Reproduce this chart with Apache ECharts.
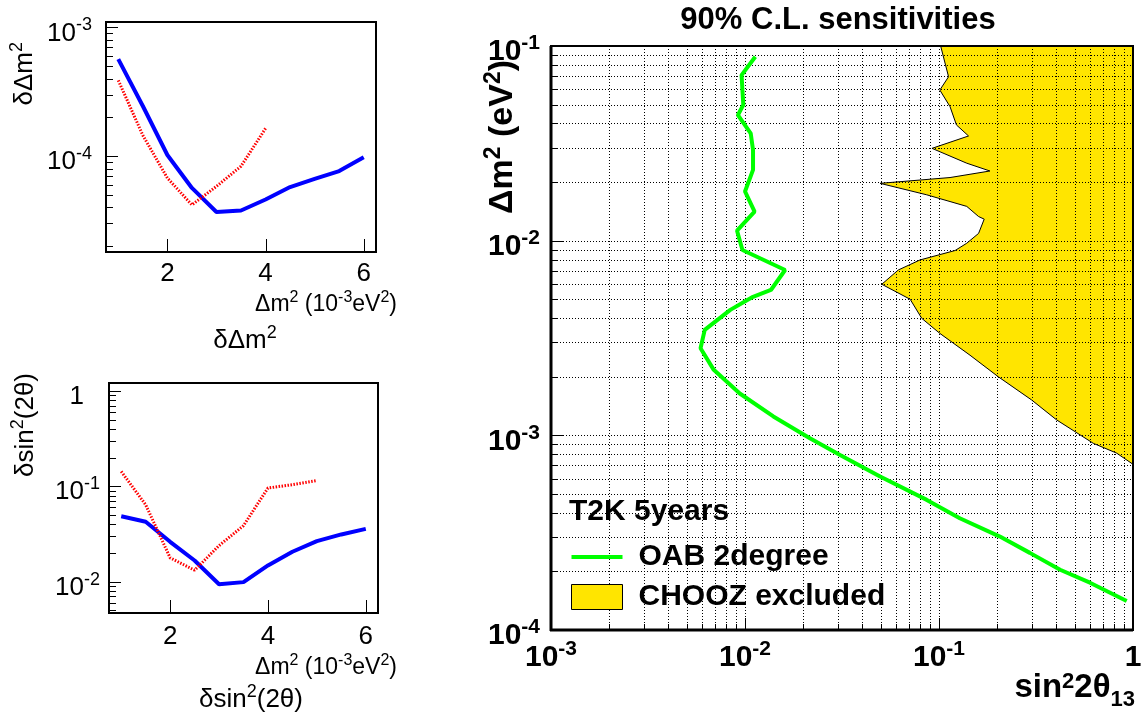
<!DOCTYPE html>
<html>
<head>
<meta charset="utf-8">
<script src="https://cdn.jsdelivr.net/npm/echarts@6/dist/echarts.min.js"></script>
<style>
  html, body { margin: 0; padding: 0; background: #fff; }
  #chart { width: 1144px; height: 714px; }
</style>
</head>
<body>
<div id="chart"></div>
<script>
const FONT = '"Liberation Sans", Arial, Helvetica, sans-serif';

// ---- Main panel: 90% C.L. sensitivity, T2K 5 years, OAB 2 degree ----
const oabSin2 = [0.0113, 0.0096, 0.0098, 0.0092, 0.0107, 0.0110, 0.0110, 0.0100, 0.0112, 0.0091,
                 0.0097, 0.0161, 0.0136, 0.0110, 0.0084, 0.0062, 0.0059, 0.0069, 0.0094, 0.0140,
                 0.0216, 0.0309, 0.0497, 0.0865, 0.128, 0.206, 0.294, 0.421, 0.600, 0.928];
const oabDm2 = [0.0881, 0.0709, 0.0498, 0.0442, 0.0356, 0.0292, 0.0231, 0.0179, 0.0141, 0.01125,
                0.00895, 0.00707, 0.00558, 0.00515, 0.00441, 0.00348, 0.00280, 0.00217, 0.00164, 0.00125,
                0.000966, 0.000793, 0.000614, 0.000466, 0.000375, 0.000302, 0.000249, 0.000204, 0.000175, 0.000141];

// CHOOZ exclusion boundary (region to the right is excluded)
const choozSin2 = [0.102, 0.112, 0.101, 0.114, 0.123, 0.142, 0.092, 0.139, 0.183, 0.114,
                   0.0497, 0.0865, 0.139, 0.160, 0.171, 0.160, 0.139, 0.121, 0.0798, 0.0617,
                   0.0507, 0.071, 0.0815, 0.101, 0.1445, 0.202, 0.300, 0.404, 0.624, 0.824, 1.0];
const choozDm2 = [0.1, 0.0695, 0.0594, 0.0488, 0.0393, 0.0345, 0.0298, 0.025, 0.0228, 0.0211,
                  0.0197, 0.0172, 0.0150, 0.0133, 0.0129, 0.0109, 0.0097, 0.0089, 0.00796, 0.00707,
                  0.00597, 0.0050, 0.00399, 0.00334, 0.00258, 0.0020, 0.00152, 0.0012, 0.00091, 0.00081, 0.00071];

// ---- Resolution panels, x = Δm² in units of 1e-3 eV² ----
const dm2Solid = [1, 1.5, 2, 2.5, 3, 3.5, 4, 4.5, 5, 5.5, 6];
const dDm2Solid = [5.66e-4, 2.45e-4, 1.02e-4, 5.66e-5, 3.68e-5, 3.78e-5, 4.6e-5, 5.75e-5, 6.65e-5, 7.65e-5, 9.8e-5];
const dm2DottedTop = [1, 1.5, 2, 2.5, 3, 3.5, 4];
const dDm2Dotted = [3.88e-4, 1.45e-4, 6.76e-5, 4.18e-5, 5.82e-5, 8.34e-5, 1.64e-4];

const dSinSolid = [0.0485, 0.0425, 0.0262, 0.0167, 0.0094, 0.0099, 0.0148, 0.0206, 0.0266, 0.0313, 0.0358];
const dm2DottedBottom = [1, 1.5, 2, 2.5, 3, 3.5, 4, 4.5, 5];
const dSinDotted = [0.143, 0.064, 0.0178, 0.0132, 0.0239, 0.0387, 0.096, 0.104, 0.1147];

// Axis ranges and tick labels
const mainX = [1e-3, 1];
const mainY = [1e-4, 1e-1];
const resX = [0.75, 6.25];
const resXLabels = [2, 4, 6];
const topY = [1.8e-5, 1.1e-3];
const bottomY = [4.7e-3, 1.21];

const pairs = (xs, ys) => xs.map((x, i) => [x, ys[i]]);

// log-axis label as 10^n rich text
function powLabel(v, padOne) {
  const lg = Math.log10(v);
  const e = Math.round(lg);
  if (Math.abs(lg - e) > 1e-6) return '';
  if (e === 0) return padOne ? '{b|1}{h|-0}' : '{b|1}';
  return '{b|10}{s|' + e + '}';
}

function labelRich(size, supSize, weight, lh) {
  return {
    b: { fontSize: size, fontWeight: weight, fontFamily: FONT, color: '#000', lineHeight: lh, verticalAlign: 'bottom' },
    s: { fontSize: supSize, fontWeight: weight, fontFamily: FONT, color: '#000', lineHeight: supSize, verticalAlign: 'top' },
    h: { fontSize: supSize, fontWeight: weight, fontFamily: FONT, color: 'rgba(0,0,0,0)', lineHeight: supSize, verticalAlign: 'top' }
  };
}

function textRich(size, supSize, weight, lh) {
  return {
    b: { fontSize: size, fontWeight: weight, fontFamily: FONT, fill: '#000', lineHeight: lh, verticalAlign: 'bottom' },
    s: { fontSize: supSize, fontWeight: weight, fontFamily: FONT, fill: '#000', lineHeight: supSize, verticalAlign: 'top' },
    u: { fontSize: supSize, fontWeight: weight, fontFamily: FONT, fill: '#000', lineHeight: supSize, verticalAlign: 'bottom' }
  };
}

// tick positions on a log axis: decades are major, 2..9 are minor
function logMarks(lo, hi) {
  const out = [];
  for (let e = Math.floor(Math.log10(lo)); e <= Math.ceil(Math.log10(hi)); e++) {
    for (let m = 1; m < 10; m++) {
      const v = m * Math.pow(10, e);
      if (v >= lo * 0.999999 && v <= hi * 1.000001) out.push({ v: v, major: m === 1 });
    }
  }
  return out;
}

// frame, inner ticks and optional dotted grid for one panel
function marksRenderer(cfg) {
  return function (params, api) {
    const cs = params.coordSys;
    const L = cs.x, T = cs.y, R = cs.x + cs.width, B = cs.y + cs.height;
    const kids = [];
    const seg = (x1, y1, x2, y2, style) => kids.push({ type: 'line', shape: { x1: x1, y1: y1, x2: x2, y2: y2 }, style: style });
    const dotted = { stroke: '#000', lineWidth: 1, lineDash: [1, 2] };
    const solid = { stroke: '#000', lineWidth: 1 };
    cfg.xMarks.forEach(m => {
      const px = Math.round(api.coord([m.v, cfg.yRef])[0]) + 0.5;
      if (cfg.grid) seg(px, T, px, B, dotted);
      seg(px, B, px, B - (m.major ? cfg.xTick[0] : cfg.xTick[1]), solid);
    });
    cfg.yMarks.forEach(m => {
      const py = Math.round(api.coord([cfg.xRef, m.v])[1]) + 0.5;
      if (cfg.grid) seg(L, py, R, py, dotted);
      seg(L, py, L + (m.major ? cfg.yTick[0] : cfg.yTick[1]), py, solid);
    });
    kids.push({ type: 'rect', shape: { x: L, y: T, width: cs.width, height: cs.height },
                style: { fill: 'none', stroke: '#000', lineWidth: cfg.frame } });
    if (cfg.heavy) {
      seg(L, T, L, B + 1, { stroke: '#000', lineWidth: cfg.heavy });
      seg(L - 1, B, R, B, { stroke: '#000', lineWidth: cfg.heavy });
    }
    return { type: 'group', children: kids };
  };
}

const chart = echarts.init(document.getElementById('chart'), null, { renderer: 'canvas' });

const mainRich = labelRich(30, 21, 'bold', 34);
const sideRich = labelRich(26, 18, 'normal', 30);

const option = {
  animation: false,
  backgroundColor: '#fff',
  grid: [
    { left: 106, top: 22, width: 270, height: 230, outerBoundsMode: 'none' },
    { left: 109, top: 383, width: 269, height: 230, outerBoundsMode: 'none' },
    { left: 551, top: 46, width: 582, height: 584, outerBoundsMode: 'none' }
  ],
  xAxis: [
    { type: 'value', gridIndex: 0, min: resX[0], max: resX[1],
      axisLine: { show: false }, axisTick: { show: false }, splitLine: { show: false },
      axisLabel: { margin: 9, fontSize: 26, fontFamily: FONT, color: '#000',
                   formatter: v => resXLabels.some(t => Math.abs(t - v) < 1e-6) ? String(Math.round(v)) : '' } },
    { type: 'value', gridIndex: 1, min: resX[0], max: resX[1],
      axisLine: { show: false }, axisTick: { show: false }, splitLine: { show: false },
      axisLabel: { margin: 11, fontSize: 26, fontFamily: FONT, color: '#000',
                   formatter: v => resXLabels.some(t => Math.abs(t - v) < 1e-6) ? String(Math.round(v)) : '' } },
    { type: 'log', logBase: 10, gridIndex: 2, min: mainX[0], max: mainX[1],
      axisLine: { show: false }, axisTick: { show: false }, splitLine: { show: false },
      axisLabel: { margin: 9, showMinLabel: true, showMaxLabel: true,
                   formatter: v => powLabel(v, false), rich: mainRich } }
  ],
  yAxis: [
    { type: 'log', logBase: 10, gridIndex: 0, min: topY[0], max: topY[1],
      axisLine: { show: false }, axisTick: { show: false }, splitLine: { show: false },
      axisLabel: { margin: 14, padding: [8, 0, 0, 0], formatter: v => powLabel(v, true), rich: sideRich } },
    { type: 'log', logBase: 10, gridIndex: 1, min: bottomY[0], max: bottomY[1],
      axisLine: { show: false }, axisTick: { show: false }, splitLine: { show: false },
      axisLabel: { margin: 9, padding: [8, 0, 0, 0], formatter: v => powLabel(v, true), rich: sideRich } },
    { type: 'log', logBase: 10, gridIndex: 2, min: mainY[0], max: mainY[1],
      axisLine: { show: false }, axisTick: { show: false }, splitLine: { show: false },
      axisLabel: { margin: 11, padding: [8, 0, 0, 0], showMinLabel: true, showMaxLabel: true,
                   formatter: v => powLabel(v, false), rich: mainRich } }
  ],
  legend: {
    orient: 'vertical', left: 571, top: 542, padding: 0, itemWidth: 51, itemHeight: 25, itemGap: 10,
    selectedMode: false,
    textStyle: { fontSize: 30, fontWeight: 'bold', fontFamily: FONT, color: '#000', lineHeight: 30, padding: [0, 0, 0, 11] },
    data: [
      { name: 'OAB 2degree', icon: 'path://M0,0H40V3H0Z', itemStyle: { color: '#00ff00', borderWidth: 0 } },
      { name: 'CHOOZ excluded', icon: 'rect', itemStyle: { color: '#ffe500', borderColor: '#000', borderWidth: 1 } }
    ]
  },
  graphic: [
    { type: 'text', x: 838, y: 20, silent: true,
      style: { text: '90% C.L. sensitivities', fontSize: 31, fontWeight: 'bold', fontFamily: FONT, fill: '#000',
               align: 'center', verticalAlign: 'middle' } },
    { type: 'text', x: 501, y: 60, rotation: Math.PI / 2, silent: true,
      style: { text: '{b|Δm}{s|2}{b| (eV}{s|2}{b|)}', rich: textRich(34, 23, 'bold', 38),
               align: 'right', verticalAlign: 'middle' } },
    { type: 'text', x: 1135, y: 691, silent: true,
      style: { text: '{t|sin}{s|2}{t|2θ}{u|13}',
               rich: Object.assign(textRich(33, 22, 'bold', 40),
                 { t: { fontSize: 33, fontWeight: 'bold', fontFamily: FONT, fill: '#000', lineHeight: 40, verticalAlign: 'top' } }),
               align: 'right', verticalAlign: 'middle' } },
    { type: 'text', x: 569, y: 512, silent: true,
      style: { text: 'T2K 5years', fontSize: 30, fontWeight: 'bold', fontFamily: FONT, fill: '#000',
               align: 'left', verticalAlign: 'middle' } },
    // resolution panel titles
    { type: 'text', x: 23, y: 42, rotation: Math.PI / 2, silent: true,
      style: { text: '{b|δΔm}{s|2}', rich: textRich(26, 18, 'normal', 30), align: 'right', verticalAlign: 'middle' } },
    { type: 'text', x: 397, y: 303, silent: true,
      style: { text: '{b|Δm}{s|2}{b| (10}{s|-3}{b|eV}{s|2}{b|)}', rich: textRich(23, 16, 'normal', 27),
               align: 'right', verticalAlign: 'middle' } },
    { type: 'text', x: 245, y: 339, silent: true,
      style: { text: '{b|δΔm}{s|2}', rich: textRich(26, 18, 'normal', 30), align: 'center', verticalAlign: 'middle' } },
    { type: 'text', x: 24, y: 373, rotation: Math.PI / 2, silent: true,
      style: { text: '{b|δsin}{s|2}{b|(2θ)}', rich: textRich(26, 18, 'normal', 30), align: 'right', verticalAlign: 'middle' } },
    { type: 'text', x: 397, y: 666, silent: true,
      style: { text: '{b|Δm}{s|2}{b| (10}{s|-3}{b|eV}{s|2}{b|)}', rich: textRich(23, 16, 'normal', 27),
               align: 'right', verticalAlign: 'middle' } },
    { type: 'text', x: 251, y: 698, silent: true,
      style: { text: '{b|δsin}{s|2}{b|(2θ)}', rich: textRich(26, 18, 'normal', 30), align: 'center', verticalAlign: 'middle' } }
  ],
  series: [
    // CHOOZ excluded region
    { name: 'CHOOZ excluded', type: 'custom', coordinateSystem: 'cartesian2d', xAxisIndex: 2, yAxisIndex: 2, z: 1,
      silent: true, itemStyle: { color: '#ffe500' },
      data: [[choozSin2[0], choozDm2[0]]],
      renderItem: function (params, api) {
        const pts = choozSin2.map((s, i) => api.coord([s, choozDm2[i]]));
        pts.push(api.coord([mainX[1], mainY[1]]));
        return { type: 'polygon', shape: { points: pts }, style: { fill: '#ffe500', stroke: '#000', lineWidth: 1 } };
      } },
    { name: 'mainFrame', type: 'custom', coordinateSystem: 'cartesian2d', xAxisIndex: 2, yAxisIndex: 2, z: 2, silent: true,
      data: [[0.01, 0.01]],
      renderItem: marksRenderer({ xMarks: logMarks(mainX[0], mainX[1]), yMarks: logMarks(mainY[0], mainY[1]),
                                  xRef: 0.01, yRef: 0.01, xTick: [12, 6], yTick: [12, 6], grid: true, frame: 2, heavy: 3 }) },
    { name: 'OAB 2degree', type: 'line', xAxisIndex: 2, yAxisIndex: 2, z: 3,
      data: pairs(oabSin2, oabDm2), showSymbol: false, symbol: 'none', silent: true,
      itemStyle: { color: '#00ff00' }, lineStyle: { color: '#00ff00', width: 4 } },

    { name: 'topFrame', type: 'custom', coordinateSystem: 'cartesian2d', xAxisIndex: 0, yAxisIndex: 0, z: 2, silent: true,
      data: [[3, 1e-4]],
      renderItem: marksRenderer({ xMarks: resXLabels.map(v => ({ v: v, major: true })), yMarks: logMarks(topY[0], topY[1]),
                                  xRef: 3, yRef: 1e-4, xTick: [13, 13], yTick: [12, 7], grid: false, frame: 2 }) },
    { name: 'dDm2 solid', type: 'line', xAxisIndex: 0, yAxisIndex: 0, z: 3, data: pairs(dm2Solid, dDm2Solid),
      showSymbol: false, symbol: 'none', silent: true, lineStyle: { color: '#0000ff', width: 4 } },
    { name: 'dDm2 dotted', type: 'line', xAxisIndex: 0, yAxisIndex: 0, z: 3, data: pairs(dm2DottedTop, dDm2Dotted),
      showSymbol: false, symbol: 'none', silent: true, lineStyle: { color: '#ff0000', width: 3, type: [1.5, 1.5] } },

    { name: 'bottomFrame', type: 'custom', coordinateSystem: 'cartesian2d', xAxisIndex: 1, yAxisIndex: 1, z: 2, silent: true,
      data: [[3, 0.1]],
      renderItem: marksRenderer({ xMarks: resXLabels.map(v => ({ v: v, major: true })), yMarks: logMarks(bottomY[0], bottomY[1]),
                                  xRef: 3, yRef: 0.1, xTick: [13, 13], yTick: [12, 7], grid: false, frame: 2 }) },
    { name: 'dSin solid', type: 'line', xAxisIndex: 1, yAxisIndex: 1, z: 3, data: pairs(dm2Solid, dSinSolid),
      showSymbol: false, symbol: 'none', silent: true, lineStyle: { color: '#0000ff', width: 4 } },
    { name: 'dSin dotted', type: 'line', xAxisIndex: 1, yAxisIndex: 1, z: 3, data: pairs(dm2DottedBottom, dSinDotted),
      showSymbol: false, symbol: 'none', silent: true, lineStyle: { color: '#ff0000', width: 3, type: [1.5, 1.5] } }
  ]
};

chart.setOption(option);
</script>
</body>
</html>
